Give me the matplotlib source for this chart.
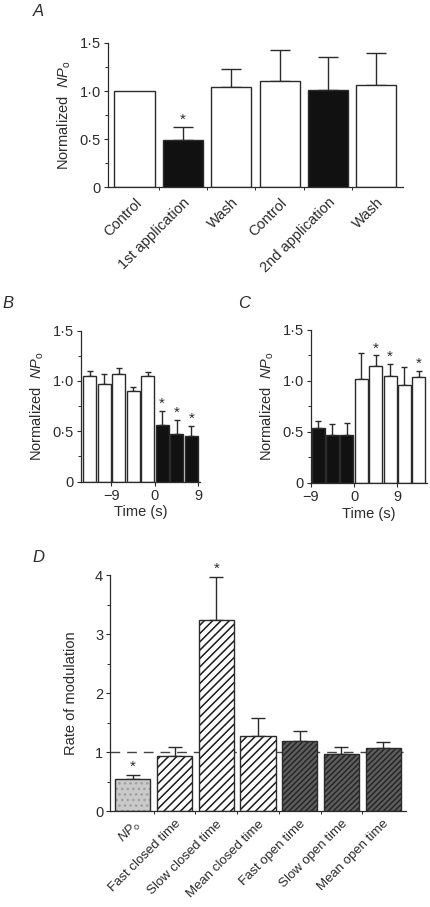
import numpy as np
import matplotlib
matplotlib.use('Agg')
import matplotlib.pyplot as plt
from matplotlib.ticker import FuncFormatter, MultipleLocator, FixedLocator

plt.rcParams['font.family'] = ['Liberation Sans', 'DejaVu Sans']
plt.rcParams['mathtext.fontset'] = 'custom'
plt.rcParams['mathtext.rm'] = 'Liberation Sans'
plt.rcParams['mathtext.it'] = 'Liberation Sans:italic'
plt.rcParams['hatch.linewidth'] = 1.1

INK = '#2b2b2b'
FS = 10.5

# panel A
a_labels = ['Control', '1st application', 'Wash', 'Control', '2nd application', 'Wash']
a_vals = [1.00, 0.49, 1.04, 1.10, 1.01, 1.06]
a_top = [1.00, 0.63, 1.23, 1.43, 1.35, 1.40]
a_dark = [False, True, False, False, True, False]
a_star = [False, True, False, False, False, False]

# panel B (time in s, 3 s bins)
b_t = [-13.5, -10.5, -7.5, -4.5, -1.5, 1.5, 4.5, 7.5]
b_vals = [1.05, 0.97, 1.07, 0.90, 1.05, 0.56, 0.47, 0.45]
b_top = [1.10, 1.07, 1.13, 0.94, 1.09, 0.70, 0.61, 0.55]
b_dark = [False, False, False, False, False, True, True, True]
b_star = [False, False, False, False, False, True, True, True]

# panel C
c_t = [-7.5, -4.5, -1.5, 1.5, 4.5, 7.5, 10.5, 13.5]
c_vals = [0.54, 0.47, 0.47, 1.02, 1.15, 1.05, 0.96, 1.04]
c_top = [0.61, 0.58, 0.59, 1.27, 1.25, 1.17, 1.14, 1.10]
c_dark = [True, True, True, False, False, False, False, False]
c_star = [False, False, False, False, True, True, False, True]

# panel D
d_labels = [r'$\it{NP}_{\rm o}$', 'Fast closed time', 'Slow closed time', 'Mean closed time',
            'Fast open time', 'Slow open time', 'Mean open time']
d_vals = [0.54, 0.93, 3.23, 1.28, 1.19, 0.96, 1.07]
d_top = [0.61, 1.09, 3.97, 1.57, 1.35, 1.09, 1.17]
d_kind = ['np', 'closed', 'closed', 'closed', 'open', 'open', 'open']
d_star = [True, False, True, False, False, False, False]

dot_fmt = FuncFormatter(lambda v, p: '0' if v == 0 else ('%.1f' % v).replace('.', '\u00b7'))
ylab = r'Normalized  $\it{NP}_{\rm o}$'

fig = plt.figure(figsize=(4.3, 9.07), dpi=100)


def style(ax):
    for s in ['top', 'right']:
        ax.spines[s].set_visible(False)
    for s in ['left', 'bottom']:
        ax.spines[s].set_color(INK)
        ax.spines[s].set_linewidth(0.9)
    ax.tick_params(colors=INK, labelsize=FS, width=0.8, length=3, labelcolor=INK, pad=2)
    ax.tick_params(which='minor', length=2, width=0.7, colors=INK)


def errs(ax, x, vals, top, cap):
    x = np.asarray(x, float)
    vals = np.asarray(vals, float)
    up = np.asarray(top, float) - vals
    keep = up > 0
    ax.errorbar(x[keep], vals[keep], yerr=[np.zeros(keep.sum()), up[keep]], fmt='none',
                ecolor=INK, elinewidth=1.0, capsize=cap, capthick=1.0, zorder=1)


def bars(ax, x, vals, top, dark, star, width, cap):
    cols = ['#111111' if d else 'white' for d in dark]
    ax.bar(x, vals, width=width, color=cols, edgecolor=INK, linewidth=1.0, zorder=2)
    errs(ax, x, vals, top, cap)
    for xi, t, s in zip(x, top, star):
        if s:
            ax.text(xi, t, '*', ha='center', va='bottom', fontsize=11, color=INK)


def letter(x, y, s):
    fig.text(x / 430, 1 - y / 907, s, fontsize=12, style='italic', color=INK,
             ha='center', va='center')


# ---- A
axA = fig.add_axes([0.251, 0.7938, 0.686, 0.1588])
xa = np.arange(len(a_vals))
bars(axA, xa, a_vals, a_top, a_dark, a_star, 0.83, 7)
axA.set_xlim(-0.55, 5.55)
axA.set_ylim(0, 1.5)
axA.yaxis.set_major_locator(MultipleLocator(0.5))
axA.yaxis.set_minor_locator(MultipleLocator(0.25))
axA.yaxis.set_major_formatter(dot_fmt)
axA.set_xticks(xa)
axA.set_xticklabels(a_labels, rotation=45, ha='right', rotation_mode='anchor')
axA.xaxis.set_minor_locator(FixedLocator(xa[:-1] + 0.5))
style(axA)
axA.tick_params(axis='x', which='major', length=0, pad=6)
axA.set_ylabel(ylab, fontsize=FS, color=INK, labelpad=5)
letter(38, 11, 'A')

# ---- B
axB = fig.add_axes([0.188, 0.469, 0.277, 0.1665])
bars(axB, b_t, b_vals, b_top, b_dark, b_star, 2.7, 2.5)
axB.set_xlim(-15.3, 9.3)
axB.set_ylim(0, 1.5)
axB.yaxis.set_major_locator(MultipleLocator(0.5))
axB.yaxis.set_minor_locator(MultipleLocator(0.25))
axB.yaxis.set_major_formatter(dot_fmt)
axB.set_xticks([-9, 0, 9])
axB.set_xticklabels(['\u22129', '0', '9'])
style(axB)
axB.set_xlabel('Time (s)', fontsize=FS, color=INK, labelpad=2)
axB.set_ylabel(ylab, fontsize=FS, color=INK, labelpad=5)
letter(8, 304, 'B')

# ---- C
axC = fig.add_axes([0.723, 0.4675, 0.270, 0.1687])
bars(axC, c_t, c_vals, c_top, c_dark, c_star, 2.7, 2.5)
axC.set_xlim(-9.0, 15.2)
axC.set_ylim(0, 1.5)
axC.yaxis.set_major_locator(MultipleLocator(0.5))
axC.yaxis.set_minor_locator(MultipleLocator(0.25))
axC.yaxis.set_major_formatter(dot_fmt)
axC.set_xticks([-9, 0, 9])
axC.set_xticklabels(['\u22129', '0', '9'])
style(axC)
axC.set_xlabel('Time (s)', fontsize=FS, color=INK, labelpad=2)
axC.set_ylabel(ylab, fontsize=FS, color=INK, labelpad=5)
letter(244, 303, 'C')

# ---- D
axD = fig.add_axes([0.256, 0.1058, 0.688, 0.2602])
xd = np.arange(len(d_vals))
face = {'np': '#cacaca', 'closed': 'white', 'open': '#5e5e5e'}
hatch = {'np': '...', 'closed': '////', 'open': '//////'}
hcol = {'np': '#a0a0a0', 'closed': '#1a1a1a', 'open': '#262626'}
axD.axhline(1.0, color='#444444', lw=1.0, dashes=(7, 5), zorder=0)
for xi, v, k in zip(xd, d_vals, d_kind):
    axD.bar(xi, v, width=0.84, color=face[k], edgecolor='none', zorder=2)
    axD.bar(xi, v, width=0.84, color='none', edgecolor=hcol[k], hatch=hatch[k],
            linewidth=0, zorder=2.5)
    axD.bar(xi, v, width=0.84, color='none', edgecolor=INK, linewidth=1.0, zorder=3)
errs(axD, xd, d_vals, d_top, 5)
for xi, t, s in zip(xd, d_top, d_star):
    if s:
        axD.text(xi, t + 0.02, '*', ha='center', va='bottom', fontsize=11, color=INK)
axD.set_xlim(-0.55, 6.55)
axD.set_ylim(0, 4)
axD.yaxis.set_major_locator(MultipleLocator(1))
axD.yaxis.set_minor_locator(MultipleLocator(0.5))
axD.set_xticks(xd)
axD.set_xticklabels(d_labels, rotation=45, ha='right', rotation_mode='anchor')
axD.xaxis.set_minor_locator(FixedLocator(xd[:-1] + 0.5))
style(axD)
axD.tick_params(axis='x', which='major', length=0, pad=5, labelsize=9.5)
axD.set_ylabel('Rate of modulation', fontsize=FS, color=INK, labelpad=12)
letter(38, 557, 'D')

fig.savefig('out.png', dpi=100, facecolor='white')
